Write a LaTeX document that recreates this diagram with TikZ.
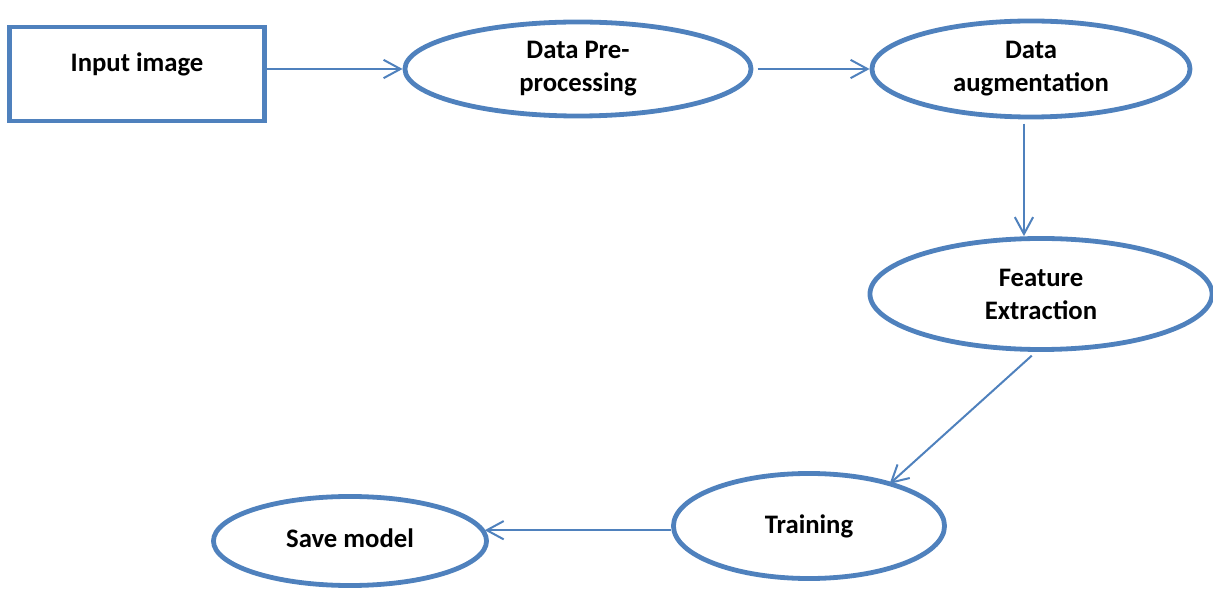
\documentclass[tikz,border=0pt]{standalone}
\usepackage{fontspec}
\setmainfont{Carlito}
\usetikzlibrary{shapes.geometric,arrows.meta}
\definecolor{boxblue}{RGB}{79,129,189}
\tikzset{
	stage/.style={draw=boxblue, line width=0.12cm, ellipse, inner sep=0pt, align=center, font=\fontsize{19}{23.5}\selectfont\bfseries},
	inbox/.style={draw=boxblue, line width=0.11cm, rectangle, inner sep=0pt, align=center, font=\fontsize{19}{23.5}\selectfont\bfseries},
	flow/.style={draw=boxblue, line width=0.05cm, -{Straight Barb[length=12pt,width=13pt]}}
}
\begin{document}
\begin{tikzpicture}[x=0.025cm, y=-0.025cm]
	\useasboundingbox (0,0) rectangle (1213,590);
	\node[inbox, minimum width=6.375cm, minimum height=2.35cm, text depth=0.6cm] (in) at (137,74) {Input image};
	\node[stage, minimum width=8.65cm, minimum height=2.35cm] (pre) at (578,69) {Data Pre-\\processing};
	\node[stage, minimum width=7.95cm, minimum height=2.4cm] (aug) at (1031,69) {Data\\augmentation};
	\node[stage, minimum width=8.55cm, minimum height=2.775cm] (feat) at (1041,294) {Feature\\ Extraction};
	\node[stage, minimum width=6.775cm, minimum height=2.625cm] (train) at (809,526) {Training};
	\node[stage, minimum width=6.825cm, minimum height=2.225cm, text depth=0.15cm] (save) at (350,541) {Save model};
	
	\draw[flow] (in.east |- pre.west) -- (pre.west);
	\draw[flow, shorten <=3pt] (pre.east) -- (aug.west);
	\draw[flow, shorten <=3pt] ([xshift=-5pt]aug.south) -- ([xshift=-5pt]aug.south |- feat.north);
	\draw[flow, shorten <=4pt, shorten >=-2pt] (feat.265) -- (train.28);
	\draw[flow, shorten >=-3pt] ([yshift=-3pt]train.west) -- ([yshift=-3pt]train.west -| save.east);
\end{tikzpicture}
\end{document}
